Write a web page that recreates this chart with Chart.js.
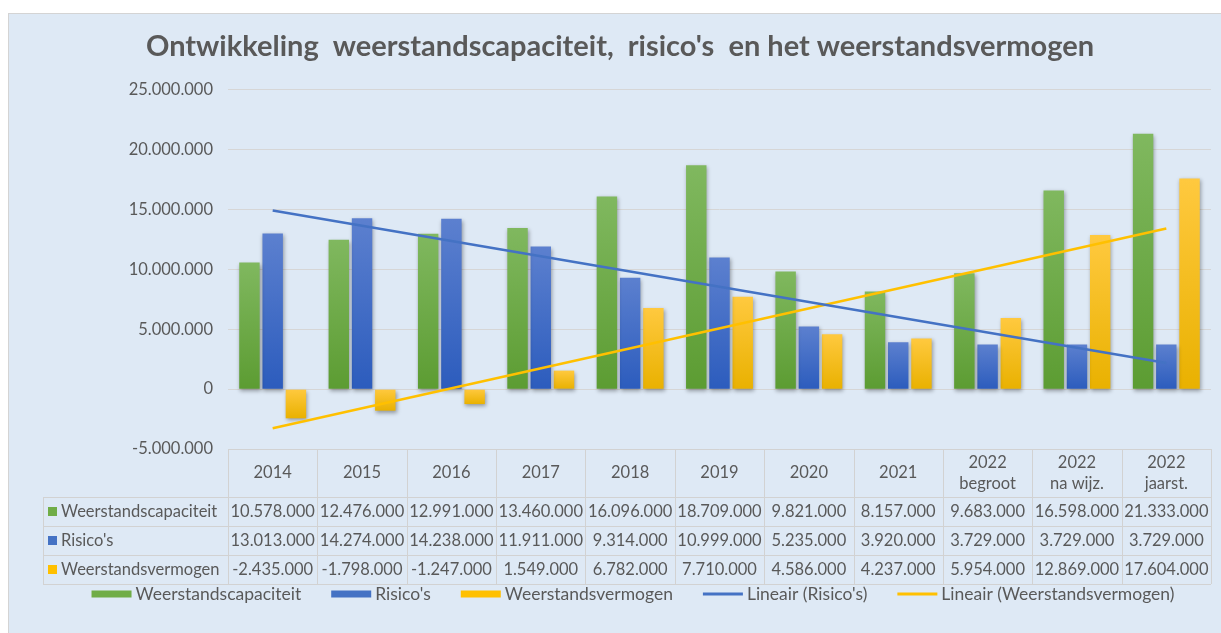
<!DOCTYPE html>
<html>
<head>
<meta charset="utf-8">
<script src="https://cdn.jsdelivr.net/npm/chart.js@4.4.0/dist/chart.umd.min.js"></script>
<style>
  html, body { margin: 0; padding: 0; background: #fff; }
  #panel {
    position: absolute; left: 8px; top: 13px;
    width: 1213px; height: 620px;
    background: #dee9f5;
    border-top: 1px solid #d4d4d4;
    border-left: 1px solid #d4d4d4;
  }
  canvas { display: block; }
</style>
</head>
<body>
<div id="panel"><canvas id="barGraph" width="1212" height="619"></canvas></div>
<script>
  const categories = [
    '2014', '2015', '2016', '2017', '2018', '2019', '2020', '2021',
    ['2022', 'begroot'],
    ['2022', 'na wijz.'],
    ['2022', 'jaarst.']
  ];

  const capaciteit = [10578000, 12476000, 12991000, 13460000, 16096000, 18709000, 9821000, 8157000, 9683000, 16598000, 21333000];
  const risicos = [13013000, 14274000, 14238000, 11911000, 9314000, 10999000, 5235000, 3920000, 3729000, 3729000, 3729000];
  const vermogen = [-2435000, -1798000, -1247000, 1549000, 6782000, 7710000, 4586000, 4237000, 5954000, 12869000, 17604000];

  // trend lines: first and last category only
  const trendRisicos = [14930000, null, null, null, null, null, null, null, null, null, 2180000];
  const trendVermogen = [-3270000, null, null, null, null, null, null, null, null, null, 13420000];

  const yTicks = { min: -5000000, max: 25000000, step: 5000000 };

  const GREEN = '#70ad47', BLUE = '#4472c4', YELLOW = '#ffc000';
  const TEXT = '#595959';
  const FONT = 'Lato';

  function fmt(v) {
    const s = String(Math.abs(v)).replace(/\B(?=(\d{3})+(?!\d))/g, '.');
    return v < 0 ? '-' + s : s;
  }

  function barFill(top, bottom) {
    return function (c) {
      const chart = c.chart;
      if (c.type !== 'data' || !chart.scales.y) return bottom;
      const y = chart.scales.y;
      const y1 = y.getPixelForValue(Math.max(c.raw, 0));
      const y2 = y.getPixelForValue(Math.min(c.raw, 0));
      if (!isFinite(y1) || !isFinite(y2) || y1 === y2) return bottom;
      const g = chart.ctx.createLinearGradient(0, y1, 0, y2);
      g.addColorStop(0, top);
      g.addColorStop(1, bottom);
      return g;
    };
  }

  const data = {
    labels: categories,
    datasets: [{
      label: 'Weerstandscapaciteit',
      data: capaciteit,
      backgroundColor: barFill('#80b85f', '#5c9c32'),
      legendColor: GREEN,
      order: 1
    }, {
      label: "Risico's",
      data: risicos,
      backgroundColor: barFill('#5c80cf', '#2c5cbd'),
      legendColor: BLUE,
      order: 1
    }, {
      label: 'Weerstandsvermogen',
      data: vermogen,
      backgroundColor: barFill('#ffc93f', '#e9b100'),
      legendColor: YELLOW,
      order: 1
    }, {
      type: 'line',
      label: "Lineair (Risico's)",
      data: trendRisicos,
      borderColor: BLUE,
      legendColor: BLUE,
      borderWidth: 2.5,
      pointRadius: 0,
      spanGaps: true,
      order: 0
    }, {
      type: 'line',
      label: 'Lineair (Weerstandsvermogen)',
      data: trendVermogen,
      borderColor: YELLOW,
      legendColor: YELLOW,
      borderWidth: 2.5,
      pointRadius: 0,
      spanGaps: true,
      order: 0
    }]
  };

  // soft shadow under the bars, like the spreadsheet
  const barShadow = {
    id: 'barShadow',
    beforeDatasetDraw(chart, args) {
      if (args.meta.type !== 'bar') return;
      const ctx = chart.ctx;
      ctx.save();
      ctx.shadowColor = 'rgba(0,0,0,0.35)';
      ctx.shadowBlur = 4;
      ctx.shadowOffsetX = 1;
      ctx.shadowOffsetY = 2;
    },
    afterDatasetDraw(chart, args) {
      if (args.meta.type === 'bar') chart.ctx.restore();
    }
  };

  // data table under the plot, in the x axis space
  const dataTable = {
    id: 'dataTable',
    afterDraw(chart) {
      const ctx = chart.ctx;
      const area = chart.chartArea;
      const n = categories.length;
      const colW = (area.right - area.left) / n;
      const top = area.bottom;
      const headH = 48, rowH = 29;
      const leftX = 34;
      const bottom = top + headH + rowH * 3;

      ctx.save();
      ctx.strokeStyle = '#d2d2d2';
      ctx.lineWidth = 1;
      ctx.beginPath();
      ctx.moveTo(area.left, top + 0.5);
      ctx.lineTo(area.right, top + 0.5);
      for (let r = 0; r <= 3; r++) {
        const y = Math.round(top + headH + r * rowH) + 0.5;
        ctx.moveTo(leftX, y);
        ctx.lineTo(area.right, y);
      }
      for (let i = 0; i <= n; i++) {
        const x = Math.round(area.left + i * colW) + 0.5;
        ctx.moveTo(x, top);
        ctx.lineTo(x, bottom);
      }
      ctx.moveTo(leftX + 0.5, top + headH);
      ctx.lineTo(leftX + 0.5, bottom);
      ctx.stroke();

      ctx.fillStyle = TEXT;
      ctx.font = '16.5px ' + FONT;
      ctx.textAlign = 'center';
      ctx.textBaseline = 'middle';
      categories.forEach(function (lab, i) {
        const cx = chart.scales.x.getPixelForValue(i);
        const cy = top + headH / 2;
        if (Array.isArray(lab)) {
          ctx.fillText(lab[0], cx, cy - 10.5);
          ctx.fillText(lab[1], cx, cy + 10.5);
        } else {
          ctx.fillText(lab, cx, cy);
        }
      });

      const rows = [capaciteit, risicos, vermogen];
      rows.forEach(function (vals, r) {
        const ds = chart.data.datasets[r];
        const cy = top + headH + r * rowH + rowH / 2;
        ctx.fillStyle = ds.legendColor;
        ctx.fillRect(39, cy - 4.5, 9, 9);
        ctx.fillStyle = TEXT;
        ctx.textAlign = 'left';
        ctx.fillText(ds.label, 52, cy);
        ctx.textAlign = 'center';
        vals.forEach(function (v, i) {
          ctx.fillText(fmt(v), chart.scales.x.getPixelForValue(i), cy);
        });
      });
      ctx.restore();
    }
  };

  // legend line at the bottom
  const bottomLegend = {
    id: 'bottomLegend',
    afterDraw(chart) {
      const ctx = chart.ctx;
      const sets = chart.data.datasets;
      const boxW = 40, gapBox = 4, gapItem = 30;
      const cy = 580;
      ctx.save();
      ctx.font = '17.5px ' + FONT;
      ctx.textBaseline = 'middle';
      ctx.textAlign = 'left';
      let total = 0;
      sets.forEach(function (ds, i) {
        total += boxW + gapBox + ctx.measureText(ds.label).width + (i < sets.length - 1 ? gapItem : 0);
      });
      let x = 624 - total / 2;
      sets.forEach(function (ds) {
        ctx.fillStyle = ds.legendColor;
        if (ds.type === 'line') ctx.fillRect(x, cy - 1.5, boxW, 3);
        else ctx.fillRect(x, cy - 3.5, boxW, 7);
        x += boxW + gapBox;
        ctx.fillStyle = TEXT;
        ctx.fillText(ds.label, x, cy);
        x += ctx.measureText(ds.label).width + gapItem;
      });
      ctx.restore();
    }
  };

  const config = {
    type: 'bar',
    data,
    options: {
      responsive: false,
      animation: false,
      datasets: {
        bar: { categoryPercentage: 0.78, barPercentage: 0.88 }
      },
      layout: {
        padding: { left: 20, right: 10, top: 0, bottom: 49 }
      },
      scales: {
        x: {
          grid: { display: false },
          border: { display: false },
          ticks: { display: false },
          afterFit(scale) { scale.height = 135; }
        },
        y: {
          min: yTicks.min,
          max: yTicks.max,
          ticks: {
            stepSize: yTicks.step,
            padding: 15,
            color: TEXT,
            font: { family: FONT, size: 16.5 },
            callback: function (v) { return fmt(v); }
          },
          grid: { color: '#d6d6d6', drawTicks: false },
          border: { display: false },
          afterFit(scale) { scale.width = 199; }
        }
      },
      plugins: {
        legend: { display: false },
        tooltip: { enabled: false },
        title: {
          display: true,
          text: "Ontwikkeling  weerstandscapaciteit,  risico's  en het weerstandsvermogen",
          color: TEXT,
          font: { family: FONT, size: 29, weight: 'bold', lineHeight: 1.1 },
          padding: { top: 17, bottom: 27 }
        }
      }
    },
    plugins: [barShadow, dataTable, bottomLegend]
  };

  const myChart = new Chart(
    document.getElementById('barGraph'),
    config
  );
</script>
</body>
</html>
